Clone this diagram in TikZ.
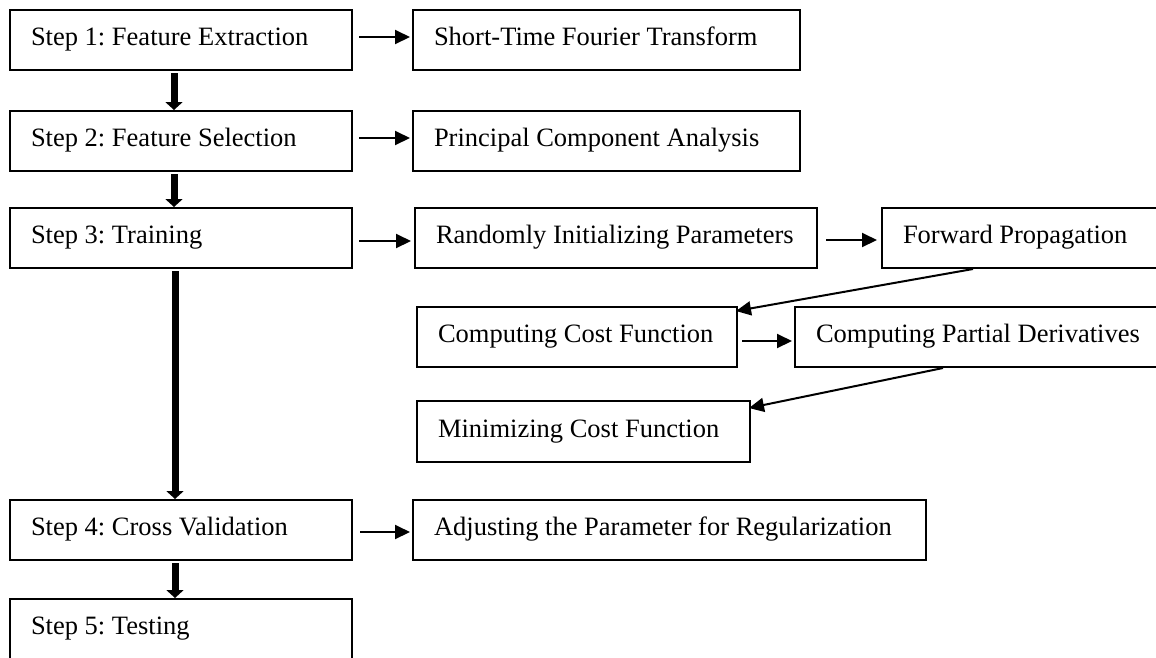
\documentclass[tikz,border=0pt]{standalone}
\usepackage{fontspec}
\setmainfont{Liberation Serif}
\usetikzlibrary{arrows.meta,calc}
% left-aligned label of a fixed width, never broken into lines
\newcommand\boxlabel[2]{\makebox[#1][l]{#2}}
\begin{document}
\frenchspacing
\begin{tikzpicture}[x=1pt,y=-1pt,
  stepbox/.style={draw, line width=2pt, anchor=north west, rectangle,
    inner xsep=21pt, inner ysep=0pt, minimum height=60pt,
    text height=17pt, text depth=6pt,
    font=\fontsize{26.5}{30}\selectfont},
  flow/.style={line width=7pt, -{Triangle[width=17pt,length=8pt]}},
  link/.style={line width=2pt, -{Triangle[width=14pt,length=15pt]}}]
\useasboundingbox (0,0) rectangle (1156,657);
\clip (0,0) rectangle (1156,657);

% main pipeline
\node[stepbox] (s1) at (9,9)   {\boxlabel{300pt}{Step 1: Feature Extraction}};
\node[stepbox] (s2) at (9,110) {\boxlabel{300pt}{Step 2: Feature Selection}};
\node[stepbox] (s3) at (9,207) {\boxlabel{300pt}{Step 3: Training}};
\node[stepbox] (s4) at (9,499) {\boxlabel{300pt}{Step 4: Cross Validation}};
\node[stepbox] (s5) at (9,598) {\boxlabel{300pt}{Step 5: Testing}};

% details of each step
\node[stepbox] (stft) at (412,9)   {\boxlabel{345pt}{Short-Time Fourier Transform}};
\node[stepbox] (pca)  at (412,110) {\boxlabel{345pt}{Principal Component Analysis}};
\node[stepbox] (rip)  at (414,207) {\boxlabel{360pt}{Randomly Initializing Parameters}};
\node[stepbox] (fp)   at (881,207) {\boxlabel{260pt}{Forward Propagation}};
\node[stepbox] (ccf)  at (416,306) {\boxlabel{278pt}{Computing Cost Function}};
\node[stepbox] (cpd)  at (794,306) {\boxlabel{350pt}{Computing Partial Derivatives}};
\node[stepbox, minimum height=61pt] (mcf) at (416,400) {\boxlabel{291pt}{Minimizing Cost Function}};
\node[stepbox] (atpr) at (412,499) {\boxlabel{471pt}{Adjusting the Parameter for Regularization}};

% vertical flow between steps
\draw[flow] ([xshift=-7pt,yshift=-2pt]s1.south) -- ([xshift=-7pt]s2.north);
\draw[flow] ([xshift=-7pt,yshift=-2pt]s2.south) -- ([xshift=-7pt]s3.north);
\draw[flow] ([xshift=-6pt,yshift=-2pt]s3.south) -- ([xshift=-6pt]s4.north);
\draw[flow] ([xshift=-6pt,yshift=-2pt]s4.south) -- ([xshift=-6pt]s5.north);

% horizontal links
\draw[link] ([xshift=6pt,yshift=3pt]s1.east) -- ([xshift=-2pt,yshift=3pt]stft.west);
\draw[link] ([xshift=6pt,yshift=3pt]s2.east) -- ([xshift=-2pt,yshift=3pt]pca.west);
\draw[link] ([xshift=6pt,yshift=-3pt]s3.east) -- ([xshift=-3pt,yshift=-3pt]rip.west);
\draw[link] ([xshift=8pt,yshift=-2pt]rip.east) -- ([xshift=-4pt,yshift=-2pt]fp.west);
\draw[link] ([xshift=4pt,yshift=-4pt]ccf.east) -- ([xshift=-2pt,yshift=-4pt]cpd.west);
\draw[link] ([xshift=7pt,yshift=-2pt]s4.east) -- ([xshift=-2pt,yshift=-2pt]atpr.west);

% diagonal links inside the training loop
\draw[link] ([xshift=92pt]fp.south west) -- ([xshift=-2pt,yshift=-5pt]ccf.north east);
\draw[link] ([xshift=149pt]cpd.south west) -- ([xshift=-2pt,yshift=-8pt]mcf.north east);
\end{tikzpicture}
\end{document}
